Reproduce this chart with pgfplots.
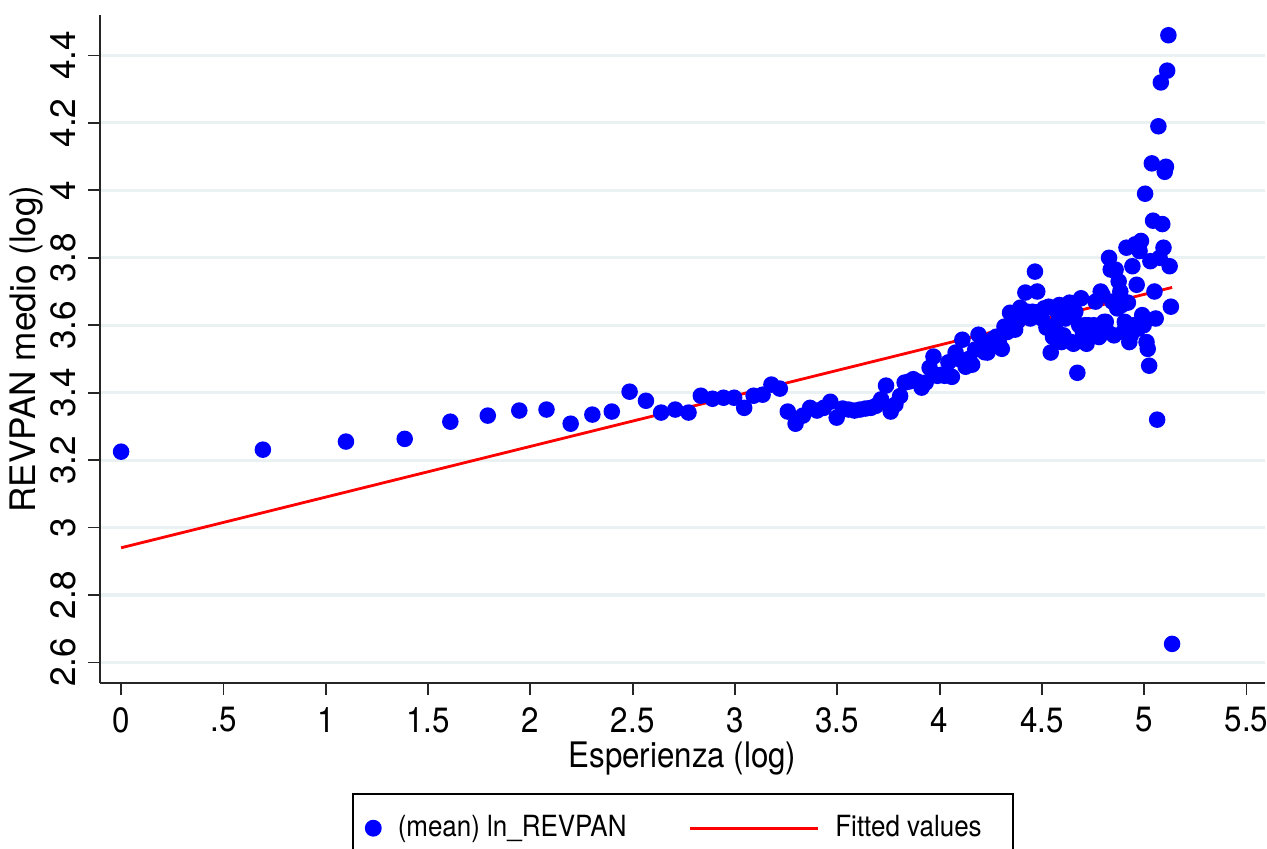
\documentclass[border=0pt]{standalone}
\usepackage{fontspec}
\setmainfont{TeX Gyre Heros}[FakeStretch=0.89]
\newfontfamily\rotfont{TeX Gyre Heros}
\usepackage{pgfplots}
\usepackage{pgfplotstable}
\pgfplotsset{compat=1.18}
\definecolor{gridc}{RGB}{234,241,243}

% mean of ln_REVPAN by log experience
\pgfplotstableread{
x y
0.000 3.225
0.693 3.231
1.099 3.255
1.386 3.263
1.609 3.314
1.792 3.332
1.946 3.347
2.079 3.350
2.197 3.308
2.303 3.335
2.398 3.344
2.485 3.403
2.565 3.376
2.639 3.341
2.708 3.350
2.773 3.341
2.833 3.391
2.890 3.382
2.944 3.385
2.996 3.385
3.045 3.355
3.091 3.391
3.135 3.394
3.178 3.424
3.219 3.412
3.258 3.344
3.296 3.308
3.332 3.332
3.367 3.355
3.401 3.347
3.434 3.355
3.466 3.373
3.497 3.326
3.526 3.353
3.555 3.350
3.584 3.347
3.611 3.350
3.638 3.353
3.664 3.355
3.689 3.361
3.714 3.380
3.738 3.421
3.761 3.344
3.784 3.365
3.807 3.390
3.829 3.430
3.850 3.433
3.871 3.440
3.892 3.433
3.912 3.415
3.932 3.430
3.951 3.474
3.970 3.507
3.989 3.450
4.007 3.453
4.025 3.450
4.043 3.490
4.060 3.447
4.078 3.519
4.094 3.500
4.111 3.557
4.127 3.477
4.143 3.500
4.159 3.483
4.174 3.528
4.190 3.572
4.205 3.542
4.220 3.520
4.234 3.519
4.248 3.550
4.263 3.560
4.277 3.566
4.290 3.548
4.304 3.530
4.317 3.596
4.331 3.580
4.344 3.637
4.357 3.600
4.369 3.587
4.382 3.612
4.394 3.652
4.407 3.630
4.419 3.697
4.431 3.640
4.443 3.620
4.454 3.640
4.466 3.759
4.477 3.700
4.489 3.640
4.500 3.620
4.511 3.650
4.522 3.593
4.533 3.655
4.543 3.519
4.554 3.565
4.564 3.600
4.575 3.640
4.585 3.660
4.595 3.550
4.605 3.570
4.615 3.620
4.625 3.660
4.635 3.667
4.644 3.550
4.654 3.545
4.663 3.640
4.673 3.459
4.682 3.600
4.691 3.680
4.700 3.580
4.710 3.600
4.718 3.545
4.727 3.600
4.736 3.565
4.745 3.570
4.754 3.600
4.762 3.670
4.771 3.570
4.779 3.565
4.787 3.700
4.796 3.690
4.804 3.610
4.812 3.610
4.820 3.580
4.828 3.800
4.836 3.765
4.844 3.670
4.852 3.570
4.860 3.765
4.868 3.650
4.875 3.730
4.883 3.700
4.890 3.660
4.898 3.580
4.905 3.610
4.913 3.830
4.920 3.667
4.927 3.550
4.934 3.570
4.942 3.775
4.949 3.600
4.956 3.840
4.963 3.720
4.970 3.590
4.977 3.820
4.984 3.850
4.990 3.630
4.997 3.600
5.004 3.990
5.011 3.550
5.017 3.530
5.024 3.480
5.030 3.790
5.037 4.080
5.043 3.910
5.050 3.700
5.056 3.620
5.063 3.320
5.069 4.190
5.075 3.800
5.081 4.320
5.088 3.900
5.094 3.830
5.100 4.055
5.106 4.070
5.112 4.355
5.118 4.460
5.124 3.775
5.130 3.655
5.136 2.655
}\meanrev

\begin{document}
\begin{tikzpicture}
\begin{axis}[
    scale only axis, width=11.65cm, height=6.68cm,
    xmin=-0.103, xmax=5.59, ymin=2.539, ymax=4.52,
    axis x line*=bottom, axis y line*=left,
    axis line style={-, line width=0.5pt, black!85},
    xtick={0,0.5,1,1.5,2,2.5,3,3.5,4,4.5,5,5.5},
    xticklabels={0,.5,1,1.5,2,2.5,3,3.5,4,4.5,5,5.5},
    ytick={2.6,2.8,3,3.2,3.4,3.6,3.8,4,4.2,4.4},
    yticklabels={2.6,2.8,3,3.2,3.4,3.6,3.8,4,4.2,4.4},
    tick align=outside, major tick length=0.12cm,
    tick style={black!85, line width=0.5pt},
    ymajorgrids, grid style={gridc, line width=0.9pt},
    /pgf/number format/assume math mode=true,
    xticklabel style={font=\fontsize{10}{12}\selectfont},
    yticklabel style={font=\rotfont\fontsize{10}{12}\selectfont, rotate=90, anchor=south},
    xlabel={Esperienza (log)},
    ylabel={\rotfont REVPAN medio (log)},
    xlabel style={font=\fontsize{10}{12}\selectfont, at={(axis description cs:0.5,-0.1135)}, anchor=center},
    ylabel style={font=\fontsize{10}{12}\selectfont, at={(axis description cs:-0.0627,0.5)}, anchor=center},
    legend columns=2,
    legend style={at={(axis description cs:0.2163,-0.1647)}, anchor=north west,
        draw=black, line width=0.5pt, font=\fontsize{8.3}{10}\selectfont,
        inner xsep=0.12cm, inner ysep=0.14cm,
        /tikz/every odd column/.append style={column sep=0.09cm},
        /tikz/every even column/.append style={column sep=0.55cm}},
    legend cell align=left,
]
\coordinate (sw) at (rel axis cs:0,0);
\addplot[only marks, mark=*, mark size=2.15pt, blue, mark options={draw=blue, fill=blue},
    legend image code/.code={\path (-0.075cm,0) (0.075cm,0); \fill[blue] (0,0) circle (2.15pt);}]
    table {\meanrev};
\addlegendentry{(mean) ln\_REVPAN}
\addplot[red, line width=0.8pt, no marks,
    legend image code/.code={\draw[red, line width=0.8pt] (0,0) -- (1.28cm,0);}]
    coordinates {(0,2.940) (5.136,3.712)};
\addlegendentry{Fitted values\kern0.12cm}
\end{axis}
\pgfresetboundingbox
\path[use as bounding box] ([shift={(-1.00cm,-1.65cm)}]sw) rectangle ([shift={(11.67cm,6.83cm)}]sw);
\end{tikzpicture}
\end{document}
